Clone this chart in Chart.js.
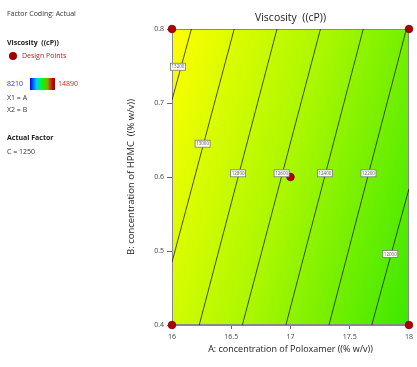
<!DOCTYPE html>
<html><head><meta charset="utf-8">
<script src="https://cdn.jsdelivr.net/npm/chart.js@4"></script>
<style>
body{margin:0;background:#fff;font-family:"Open Sans",sans-serif;}
#wrap{position:relative;width:417px;height:367px;overflow:hidden;}
canvas{position:absolute;left:0;top:0;}
.t{position:absolute;font-size:7px;color:#333;white-space:nowrap;line-height:10px;}
.b{font-weight:bold;color:#222;}
</style>
</head><body><div id="wrap">
<canvas id="c" width="417" height="367"></canvas>
<div class="t" style="left:7px;top:9px">Factor Coding: Actual</div>
<div class="t b" style="left:7px;top:38px">Viscosity&nbsp;&nbsp;((cP))</div>
<div style="position:absolute;left:9px;top:52px;width:8px;height:8px;border-radius:50%;background:#a00000;"></div>
<div class="t" style="left:22px;top:51px;color:#b22222">Design Points</div>
<div class="t" style="left:7px;top:79px;color:#3333cc">8210</div>
<div style="position:absolute;left:30px;top:78px;width:25px;height:12px;background:linear-gradient(to right,#0000ff,#00ccff 25%,#00ff00 50%,#88aa00 70%,#cc0000 90%,#990000);"></div>
<div class="t" style="left:58px;top:79px;color:#dd2222">14890</div>
<div class="t" style="left:7px;top:93px">X1 = A</div>
<div class="t" style="left:7px;top:105px">X2 = B</div>
<div class="t b" style="left:7px;top:133px">Actual Factor</div>
<div class="t" style="left:7px;top:147px">C = 1250</div>
</div>
<script>
const xTicks=[16,16.5,17,17.5,18];
const yTicks=[0.4,0.5,0.6,0.7,0.8];
const contourLevels=[13200,13000,12800,12600,12400,12200,12000];
const contourX=[[16.164,16],[16.525,16],[16.886,16.23],[17.253,16.594],[17.614,16.961],[17.978,17.325],[18,17.686]];
const contourY=[[0.8,0.704],[0.8,0.485],[0.8,0.4],[0.8,0.4],[0.8,0.4],[0.8,0.4],[0.584,0.4]];
const labelX=[16.05,16.258,16.558,16.925,17.29,17.658,17.842];
const labelY=[0.749,0.645,0.605,0.605,0.605,0.605,0.496];
const designX=[16,18,17,16,18];
const designY=[0.8,0.8,0.6,0.4,0.4];

const datasets=contourLevels.map((lv,i)=>({
  type:'line',label:String(lv),
  data:contourX[i].map((x,j)=>({x:x,y:contourY[i][j]})),
  borderColor:'#222',borderWidth:0.8,pointRadius:0,fill:false,tension:0
}));
datasets.push({
  type:'scatter',label:'Design Points',
  data:designX.map((x,i)=>({x:x,y:designY[i]})),
  backgroundColor:'#b00000',borderColor:'#7a0000',borderWidth:0.8,pointRadius:3.8,clip:false
});

const bgPlugin={
  id:'bg',
  beforeDatasetsDraw(chart){
    const {ctx,chartArea:a}=chart;
    const dx=1,dy=0.277,n=Math.hypot(dx,dy);
    const ux=dx/n,uy=dy/n;
    const L=(a.right-a.left)*ux+(a.bottom-a.top)*uy;
    const g=ctx.createLinearGradient(a.left,a.top,a.left+L*ux,a.top+L*uy);
    g.addColorStop(0,'#ffff00');
    g.addColorStop(0.5,'#a8f700');
    g.addColorStop(1,'#3ce800');
    ctx.save();
    ctx.fillStyle=g;
    ctx.fillRect(a.left,a.top,a.right-a.left,a.bottom-a.top);
    ctx.strokeStyle='#888';ctx.lineWidth=1;
    ctx.strokeRect(a.left+0.5,a.top+0.5,a.right-a.left-1,a.bottom-a.top-1);
    ctx.restore();
  },
  afterDatasetsDraw(chart){
    const {ctx,chartArea:a,scales}=chart;
    ctx.save();
    ctx.font='4.5px "Open Sans"';
    ctx.textAlign='center';ctx.textBaseline='middle';
    contourLevels.forEach((lv,i)=>{
      const px=scales.x.getPixelForValue(labelX[i]);
      const py=scales.y.getPixelForValue(labelY[i]);
      const w=15,h=7;
      ctx.fillStyle='#fff';
      ctx.fillRect(px-w/2,py-h/2,w,h);
      ctx.strokeStyle='#777';ctx.lineWidth=0.8;
      ctx.strokeRect(px-w/2,py-h/2,w,h);
      ctx.fillStyle='#555';
      ctx.fillText(String(lv),px,py+0.3);
    });
    ctx.restore();
    ctx.save();
    ctx.font='10.5px "Open Sans"';
    ctx.fillStyle='#222';ctx.textAlign='center';ctx.textBaseline='middle';
    ctx.fillText('Viscosity  ((cP))',(a.left+a.right)/2,18);
    ctx.restore();
  }
};

new Chart(document.getElementById('c'),{
  data:{datasets:datasets},
  options:{
    responsive:false,animation:false,devicePixelRatio:1,
    layout:{padding:{left:122,top:29,right:5,bottom:0}},
    plugins:{legend:{display:false},title:{display:false},tooltip:{enabled:false}},
    scales:{
      x:{type:'linear',min:16,max:18,
        afterBuildTicks:s=>{s.ticks=xTicks.map(v=>({value:v}));},
        afterFit:s=>{s.height=42;},
        ticks:{callback:v=>String(v),font:{size:7,family:'"Open Sans"'},color:'#444',padding:4,maxRotation:0},
        grid:{drawOnChartArea:false,tickLength:4,color:'#666'},
        border:{color:'#888'},
        title:{display:true,text:'A: concentration of Poloxamer ((% w/v))',font:{size:9,family:'"Open Sans"'},color:'#222',padding:{top:2,bottom:12.6}}
      },
      y:{type:'linear',min:0.4,max:0.8,
        afterBuildTicks:s=>{s.ticks=yTicks.map(v=>({value:v}));},
        afterFit:s=>{s.width=50;},
        ticks:{callback:v=>String(v),font:{size:7,family:'"Open Sans"'},color:'#444',padding:3},
        grid:{drawOnChartArea:false,tickLength:5,color:'#666'},
        border:{color:'#888'},
        title:{display:true,text:'B: concentration of HPMC  ((% w/v))',font:{size:9.5,family:'"Open Sans"'},color:'#222',padding:{top:4,bottom:4}}
      }
    }
  },
  plugins:[bgPlugin]
});
</script>
</body></html>
